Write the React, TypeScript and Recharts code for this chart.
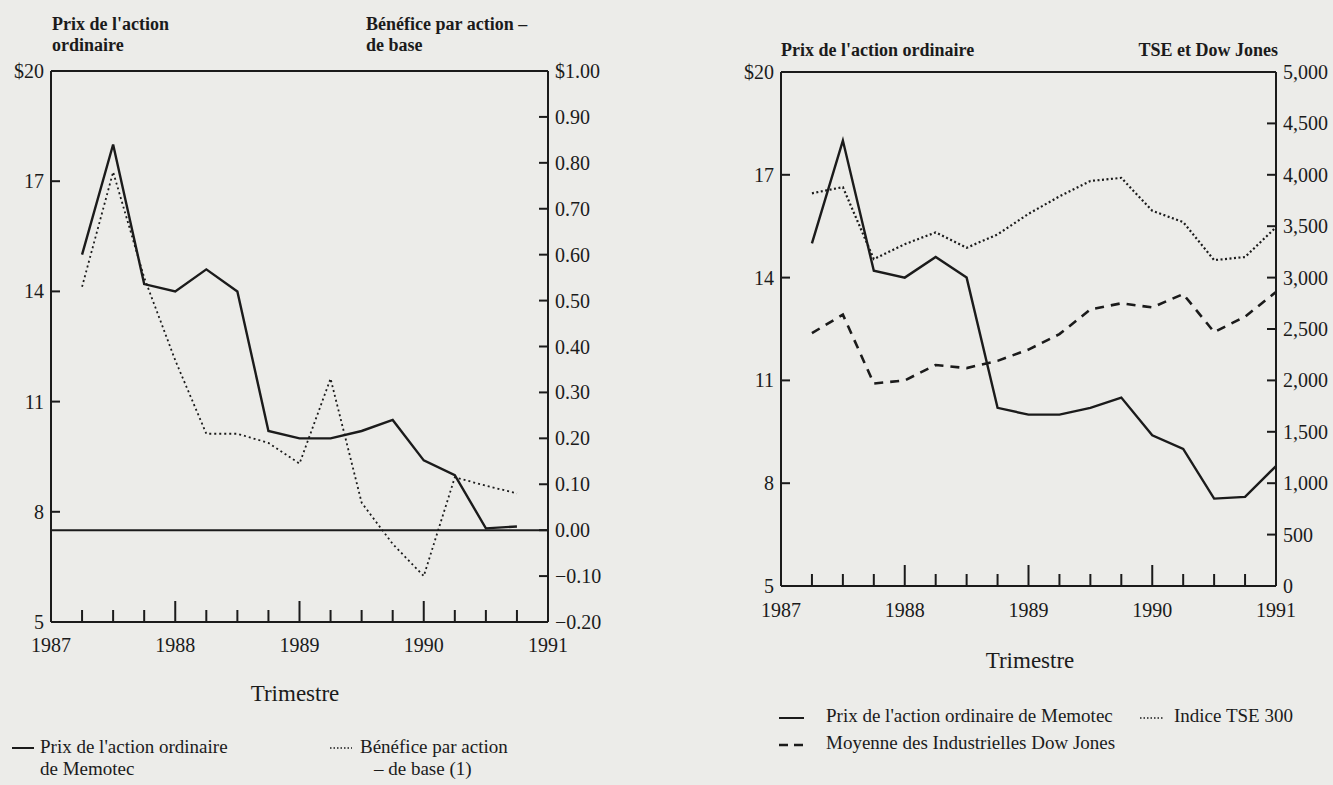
import { LineChart, Line, XAxis, YAxis, ReferenceLine } from 'recharts';

const INK = '#1b1b1b';
const PAPER = '#ecece9';
const SERIF = '"Liberation Serif", "DejaVu Serif", serif';

// Trimestres, en années décimales (fin de trimestre)
const quarters = [
  1987.25, 1987.5, 1987.75, 1988, 1988.25, 1988.5, 1988.75, 1989,
  1989.25, 1989.5, 1989.75, 1990, 1990.25, 1990.5, 1990.75, 1991,
];
const yearLabels = [1987, 1988, 1989, 1990, 1991];
const axisTicks = [1987, ...quarters];

// Prix de l'action ordinaire de Memotec ($)
const memotecPrice = [15.0, 18.0, 14.2, 14.0, 14.6, 14.0, 10.2, 10.0, 10.0, 10.2, 10.5, 9.4, 9.0, 7.55, 7.6, 8.5];
// Bénéfice par action - de base ($)
const epsBase = [0.53, 0.78, 0.55, 0.37, 0.21, 0.21, 0.19, 0.145, 0.33, 0.06, -0.03, -0.1, 0.115, 0.097, 0.08];
// Indice TSE 300
const tse300 = [3820, 3880, 3180, 3325, 3440, 3290, 3420, 3620, 3790, 3940, 3970, 3650, 3540, 3170, 3200, 3490];
// Moyenne des Industrielles Dow Jones
const dowJones = [2460, 2640, 1970, 2000, 2150, 2120, 2190, 2300, 2450, 2690, 2750, 2710, 2840, 2470, 2620, 2860];

const priceTicks = [5, 8, 11, 14, 17, 20];
const epsTicks = [-0.2, -0.1, 0, 0.1, 0.2, 0.3, 0.4, 0.5, 0.6, 0.7, 0.8, 0.9, 1.0];
const indexTicks = [0, 500, 1000, 1500, 2000, 2500, 3000, 3500, 4000, 4500, 5000];

const leftData = quarters.slice(0, epsBase.length).map((q, i) => ({
  q,
  price: memotecPrice[i],
  eps: epsBase[i],
}));

const rightData = quarters.map((q, i) => ({
  q,
  price: memotecPrice[i],
  tse: tse300[i],
  dow: dowJones[i],
}));

const fmtPrice = (v: number) => (v === 20 ? '$20' : String(v));
const fmtEps = (v: number) => {
  if (v === 1) return '$1.00';
  if (v < 0) return '\u2212' + Math.abs(v).toFixed(2);
  return v.toFixed(2);
};
const fmtIndex = (v: number) => v.toLocaleString('en-US');

function QuarterTick({ x, y, payload, fontSize, labelGap }: any) {
  const v = Number(payload.value);
  const isYear = yearLabels.includes(v);
  const inside = v > 1987 && v < 1991;
  return (
    <g>
      {inside && (
        <line x1={x} x2={x} y1={y} y2={y - (isYear ? 21 : 12)} stroke={INK} strokeWidth={2} />
      )}
      {isYear && (
        <text x={x} y={y + labelGap} dy="0.8em" textAnchor="middle" fontSize={fontSize} fill={INK} fontFamily={SERIF}>
          {v}
        </text>
      )}
    </g>
  );
}

function SideTick({ x, y, payload, side, format, fontSize, edges }: any) {
  const v = Number(payload.value);
  const dir = side === 'left' ? 1 : -1;
  const onEdge = edges.includes(v);
  return (
    <g>
      {!onEdge && <line x1={x} x2={x + dir * 9} y1={y} y2={y} stroke={INK} strokeWidth={2} />}
      <text
        x={x - dir * 7}
        y={y}
        dy="0.35em"
        textAnchor={side === 'left' ? 'end' : 'start'}
        fontSize={fontSize}
        fill={INK}
        fontFamily={SERIF}
      >
        {format(v)}
      </text>
    </g>
  );
}

function LegendSample({ dash, width = 22, strokeWidth = 2 }: { dash?: string; width?: number; strokeWidth?: number }) {
  return (
    <svg width={width} height={10} style={{ display: 'block' }}>
      <line x1={0} x2={width} y1={5} y2={5} stroke={INK} strokeWidth={strokeWidth} strokeDasharray={dash} />
    </svg>
  );
}

const abs = (left: number, top: number, extra: React.CSSProperties = {}): React.CSSProperties => ({
  position: 'absolute',
  left,
  top,
  whiteSpace: 'nowrap',
  ...extra,
});

export default function App() {
  const titleStyle: React.CSSProperties = { fontWeight: 700, fontSize: 18, lineHeight: '21px', color: INK };

  return (
    <div
      style={{
        position: 'absolute',
        left: 0,
        top: 0,
        width: 1333,
        height: 785,
        background: PAPER,
        fontFamily: SERIF,
        color: INK,
        overflow: 'hidden',
      }}
    >
      {/* Graphique 1 : prix et bénéfice par action */}
      <div style={abs(0, 0)}>
        <LineChart width={611} height={662} data={leftData} margin={{ top: 71, right: 0, bottom: 10, left: 0 }}>
          <XAxis
            dataKey="q"
            type="number"
            domain={[1987, 1991]}
            ticks={axisTicks}
            interval={0}
            height={30}
            tickSize={0}
            tickMargin={0}
            axisLine={{ stroke: INK, strokeWidth: 2 }}
            tickLine={false}
            tick={(p: any) => <QuarterTick {...p} fontSize={20} labelGap={14} />}
          />
          <YAxis
            yAxisId="price"
            orientation="left"
            domain={[5, 20]}
            ticks={priceTicks}
            interval={0}
            width={51}
            tickSize={0}
            tickMargin={0}
            axisLine={{ stroke: INK, strokeWidth: 2 }}
            tickLine={false}
            tick={(p: any) => <SideTick {...p} side="left" format={fmtPrice} fontSize={20} edges={[5, 20]} />}
          />
          <YAxis
            yAxisId="eps"
            orientation="right"
            domain={[-0.2, 1.0]}
            ticks={epsTicks}
            interval={0}
            width={63}
            tickSize={0}
            tickMargin={0}
            axisLine={{ stroke: INK, strokeWidth: 2 }}
            tickLine={false}
            tick={(p: any) => <SideTick {...p} side="right" format={fmtEps} fontSize={20} edges={[-0.2, 1.0]} />}
          />
          <ReferenceLine yAxisId="price" y={20} stroke={INK} strokeWidth={2} />
          <ReferenceLine yAxisId="eps" y={0} stroke={INK} strokeWidth={2} />
          <Line
            yAxisId="eps"
            dataKey="eps"
            type="linear"
            stroke={INK}
            strokeWidth={1.8}
            strokeDasharray="2 3"
            dot={false}
            isAnimationActive={false}
          />
          <Line
            yAxisId="price"
            dataKey="price"
            type="linear"
            stroke={INK}
            strokeWidth={2.4}
            dot={false}
            isAnimationActive={false}
          />
        </LineChart>
      </div>

      <div style={{ ...abs(52, 14), ...titleStyle }}>
        Prix de l'action
        <br />
        ordinaire
      </div>
      <div style={{ ...abs(366, 14), ...titleStyle }}>
        Bénéfice par action –
        <br />
        de base
      </div>
      <div style={{ ...abs(295, 681), transform: 'translateX(-50%)', fontSize: 23 }}>Trimestre</div>

      <div style={abs(12, 743)}>
        <LegendSample width={22} />
      </div>
      <div style={{ ...abs(40, 736), fontSize: 19, lineHeight: '22px' }}>
        Prix de l'action ordinaire
        <br />
        de Memotec
      </div>
      <div style={abs(330, 743)}>
        <LegendSample width={22} dash="1.5 2" strokeWidth={1.5} />
      </div>
      <div style={{ ...abs(360, 736), fontSize: 19, lineHeight: '22px' }}>
        Bénéfice par action
        <br />
        <span style={{ paddingLeft: 14 }}>– de base (1)</span>
      </div>

      {/* Graphique 2 : prix comparé au TSE 300 et au Dow Jones */}
      <div style={abs(720, 0)}>
        <LineChart width={613} height={626} data={rightData} margin={{ top: 72, right: 0, bottom: 10, left: 0 }}>
          <XAxis
            dataKey="q"
            type="number"
            domain={[1987, 1991]}
            ticks={axisTicks}
            interval={0}
            height={30}
            tickSize={0}
            tickMargin={0}
            axisLine={{ stroke: INK, strokeWidth: 2 }}
            tickLine={false}
            tick={(p: any) => <QuarterTick {...p} fontSize={20} labelGap={15} />}
          />
          <YAxis
            yAxisId="price"
            orientation="left"
            domain={[5, 20]}
            ticks={priceTicks}
            interval={0}
            width={61}
            tickSize={0}
            tickMargin={0}
            axisLine={{ stroke: INK, strokeWidth: 2 }}
            tickLine={false}
            tick={(p: any) => <SideTick {...p} side="left" format={fmtPrice} fontSize={20} edges={[5, 20]} />}
          />
          <YAxis
            yAxisId="index"
            orientation="right"
            domain={[0, 5000]}
            ticks={indexTicks}
            interval={0}
            width={57}
            tickSize={0}
            tickMargin={0}
            axisLine={{ stroke: INK, strokeWidth: 2 }}
            tickLine={false}
            tick={(p: any) => <SideTick {...p} side="right" format={fmtIndex} fontSize={20} edges={[0, 5000]} />}
          />
          <ReferenceLine yAxisId="price" y={20} stroke={INK} strokeWidth={2} />
          <Line
            yAxisId="index"
            dataKey="tse"
            type="linear"
            stroke={INK}
            strokeWidth={2.2}
            strokeDasharray="2 2.5"
            dot={false}
            isAnimationActive={false}
          />
          <Line
            yAxisId="index"
            dataKey="dow"
            type="linear"
            stroke={INK}
            strokeWidth={2.6}
            strokeDasharray="9 7"
            dot={false}
            isAnimationActive={false}
          />
          <Line
            yAxisId="price"
            dataKey="price"
            type="linear"
            stroke={INK}
            strokeWidth={2.4}
            dot={false}
            isAnimationActive={false}
          />
        </LineChart>
      </div>

      <div style={{ ...abs(781, 40), ...titleStyle }}>Prix de l'action ordinaire</div>
      <div style={{ ...abs(1278, 40), ...titleStyle, transform: 'translateX(-100%)' }}>TSE et Dow Jones</div>
      <div style={{ ...abs(1030, 648), transform: 'translateX(-50%)', fontSize: 23 }}>Trimestre</div>

      <div style={abs(779, 713)}>
        <LegendSample width={25} />
      </div>
      <div style={{ ...abs(826, 705), fontSize: 19 }}>Prix de l'action ordinaire de Memotec</div>
      <div style={abs(1140, 713)}>
        <LegendSample width={24} dash="1.5 2" strokeWidth={1.5} />
      </div>
      <div style={{ ...abs(1174, 705), fontSize: 19 }}>Indice TSE 300</div>
      <div style={abs(779, 740)}>
        <LegendSample width={25} dash="9 6" strokeWidth={2.4} />
      </div>
      <div style={{ ...abs(826, 732), fontSize: 19 }}>Moyenne des Industrielles Dow Jones</div>
    </div>
  );
}
